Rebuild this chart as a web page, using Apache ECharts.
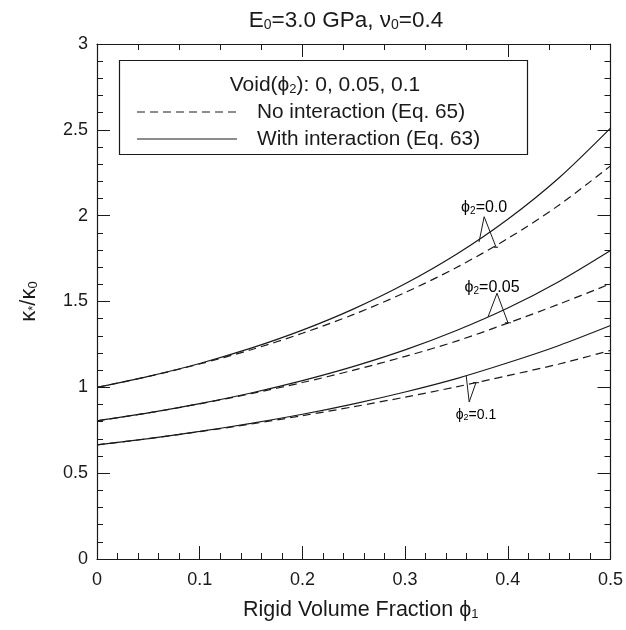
<!DOCTYPE html>
<html>
<head>
<meta charset="utf-8">
<script src="https://cdn.jsdelivr.net/npm/echarts@6/dist/echarts.min.js"></script>
<style>html,body{margin:0;padding:0;background:#fff;}#c{width:626px;height:630px;}</style>
</head>
<body>
<div id="c"></div>
<script>
// ---- data ----
const phi1 = [0, 0.05, 0.1, 0.15, 0.2, 0.25, 0.3, 0.35, 0.4, 0.45, 0.5];
const void0With   = [1.000, 1.064, 1.139, 1.228, 1.333, 1.457, 1.603, 1.775, 1.979, 2.221, 2.510];
const void0No     = [1.000, 1.063, 1.136, 1.219, 1.315, 1.425, 1.552, 1.698, 1.867, 2.062, 2.290];
const void005With = [0.805, 0.851, 0.905, 0.967, 1.039, 1.122, 1.218, 1.331, 1.462, 1.617, 1.797];
const void005No   = [0.805, 0.851, 0.904, 0.963, 1.028, 1.100, 1.180, 1.269, 1.374, 1.485, 1.603];
const void01With  = [0.665, 0.701, 0.743, 0.790, 0.843, 0.904, 0.973, 1.051, 1.143, 1.244, 1.360];
const void01No    = [0.665, 0.701, 0.742, 0.786, 0.835, 0.887, 0.943, 1.003, 1.068, 1.136, 1.215];
const xTickLabels = ['0', '0.1', '0.2', '0.3', '0.4', '0.5'];
const yTickLabels = ['0', '0.5', '1', '1.5', '2', '2.5', '3'];
// annotation leaders (data coords): solid end, apex, dashed end
const leader0   = [[0.372, 1.846], [0.377, 1.994], [0.3886, 1.816]];
const leader005 = [[0.3808, 1.411], [0.3895, 1.548], [0.4002, 1.376]];
const leader01  = [[0.3595, 1.067], [0.3624, 0.915], [0.369, 1.027]];
const annoText  = ['{p|ϕ}{s|2}{p|=0.0}', '{p|ϕ}{s|2}{p|=0.05}', '{q|ϕ}{t|2}{q|=0.1}'];
const annoPos   = [[0.377, 2.045], [0.3847, 1.579], [0.369, 0.839]];

const FONT = '"Liberation Sans", Arial, Helvetica, sans-serif';
const INK = '#1a1a1a';
const pair = (ys) => phi1.map((x, i) => [x, ys[i]]);
const tickSeg = (p, w) => [[p[0] - w, p[1]], [p[0] + w, p[1]]];

const chart = echarts.init(document.getElementById('c'), null, {renderer: 'canvas'});

const curve = (data, dashed) => ({
  type: 'line', data: pair(data), showSymbol: false, symbol: 'none', smooth: 0.3,
  lineStyle: {color: INK, width: 1.2, type: dashed ? [8, 5] : 'solid'}, silent: true, z: 3
});
const seg = (data) => ({
  type: 'line', data: data, showSymbol: false, symbol: 'none',
  lineStyle: {color: INK, width: 1}, silent: true, z: 4
});

const axisLine = {show: true, onZero: false, lineStyle: {color: INK, width: 1.2}};
const tok = (size, sub) => Object.assign({fontSize: size, fontFamily: FONT, fill: '#000'},
  sub ? {verticalAlign: 'bottom', lineHeight: 6} : {});
const annoRich = {p: tok(16), s: tok(10, true), q: tok(14), t: tok(9, true)};

const baseGraphic = [
  {type: 'text', x: 346, y: 21, z: 10, style: {
    text: '{m|E}{s|0}{m|=3.0 GPa, ν}{s|0}{m|=0.4}', align: 'center', verticalAlign: 'middle',
    rich: {
      m: {fontSize: 22.5, fontFamily: FONT, fill: INK},
      s: {fontSize: 14, fontFamily: FONT, fill: INK, verticalAlign: 'bottom', lineHeight: 8}
    }}},
  {type: 'rect', z: 10, shape: {x: 119.5, y: 60.5, width: 408, height: 94},
    style: {fill: '#fff', stroke: INK, lineWidth: 1.2}},
  {type: 'text', x: 325, y: 85, z: 11, style: {
    text: '{m|Void(ϕ}{s|2}{m|): 0, 0.05, 0.1}', align: 'center', verticalAlign: 'middle',
    rich: {
      m: {fontSize: 21, fontFamily: FONT, fill: INK},
      s: {fontSize: 13, fontFamily: FONT, fill: INK, verticalAlign: 'bottom', lineHeight: 8}
    }}},
  {type: 'line', z: 11, shape: {x1: 137, y1: 112, x2: 237, y2: 112},
    style: {stroke: INK, lineWidth: 1.2, lineDash: [8, 5]}},
  {type: 'text', x: 257, y: 112, z: 11, style: {
    text: 'No interaction (Eq. 65)', font: '20.8px ' + FONT, fill: INK, align: 'left', verticalAlign: 'middle'}},
  {type: 'line', z: 11, shape: {x1: 137, y1: 139, x2: 237, y2: 139},
    style: {stroke: INK, lineWidth: 1.2}},
  {type: 'text', x: 257, y: 139, z: 11, style: {
    text: 'With interaction (Eq. 63)', font: '20.8px ' + FONT, fill: INK, align: 'left', verticalAlign: 'middle'}}
];

const option = {
  animation: false,
  backgroundColor: '#fff',
  grid: {left: 97, right: 13, top: 44, bottom: 71, containLabel: false},
  xAxis: [
    {
      type: 'value', position: 'bottom', min: 0, max: 0.5, interval: 0.1,
      axisLine: axisLine,
      axisTick: {show: true, inside: true, length: 13, lineStyle: {color: INK, width: 1}},
      minorTick: {show: true, splitNumber: 5, length: 6, lineStyle: {color: INK, width: 1}},
      splitLine: {show: false}, minorSplitLine: {show: false},
      axisLabel: {fontSize: 18, fontFamily: FONT, color: INK, margin: 12,
        formatter: (v) => xTickLabels[Math.round(v * 10)]},
      name: '{a|Rigid Volume Fraction ϕ}{b|1}', nameLocation: 'middle', nameGap: 40,
      nameTextStyle: {padding: [0, 0, 0, 14], rich: {
        a: {fontSize: 21.5, fontFamily: FONT, color: INK},
        b: {fontSize: 13, fontFamily: FONT, color: INK, verticalAlign: 'bottom', lineHeight: 8}
      }}
    },
    {
      type: 'value', position: 'top', min: 0, max: 0.5, interval: 0.04,
      axisLine: axisLine,
      axisTick: {show: true, inside: true, length: 6, lineStyle: {color: INK, width: 1}},
      axisLabel: {show: false}, splitLine: {show: false}
    },
    {
      type: 'value', position: 'top', min: 0, max: 0.5, interval: 0.2,
      axisLine: {show: false, onZero: false},
      axisTick: {show: true, inside: true, length: 13, lineStyle: {color: INK, width: 1}},
      axisLabel: {show: false}, splitLine: {show: false}
    }
  ],
  yAxis: [
    {
      type: 'value', position: 'left', min: 0, max: 3, interval: 0.5,
      axisLine: axisLine,
      axisTick: {show: true, inside: true, length: 13, lineStyle: {color: INK, width: 1}},
      minorTick: {show: true, splitNumber: 5, length: 6, lineStyle: {color: INK, width: 1}},
      splitLine: {show: false}, minorSplitLine: {show: false},
      axisLabel: {fontSize: 18, fontFamily: FONT, color: INK, margin: 9,
        formatter: (v) => yTickLabels[Math.round(v * 2)]},
      name: '{k|κ}{s|*}{k|/κ}{s|0}', nameLocation: 'middle', nameGap: 57, nameRotate: 90,
      nameTextStyle: {rich: {
        k: {fontSize: 22, fontFamily: FONT, color: INK},
        s: {fontSize: 13, fontFamily: FONT, color: INK, verticalAlign: 'bottom', lineHeight: 8}
      }}
    },
    {
      type: 'value', position: 'right', min: 0, max: 3, interval: 0.5,
      axisLine: axisLine,
      axisTick: {show: true, inside: true, length: 13, lineStyle: {color: INK, width: 1}},
      minorTick: {show: true, splitNumber: 5, length: 6, lineStyle: {color: INK, width: 1}},
      axisLabel: {show: false}, splitLine: {show: false}
    }
  ],
  series: [
    curve(void0With, false), curve(void0No, true),
    curve(void005With, false), curve(void005No, true),
    curve(void01With, false), curve(void01No, true),
    seg(leader0), seg(tickSeg(leader0[2], 0.002)),
    seg(leader005), seg(tickSeg(leader005[2], 0.003)),
    seg(leader01), seg(tickSeg(leader01[2], 0.003))
  ],
  graphic: baseGraphic
};
chart.setOption(option);

// annotation labels placed through the chart's own coordinate conversion
const annoGraphic = annoPos.map((p, i) => {
  const px = chart.convertToPixel({xAxisIndex: 0, yAxisIndex: 0}, p);
  return {type: 'text', x: px[0], y: px[1], z: 12, style: {
    text: annoText[i], align: 'center', verticalAlign: 'middle', rich: annoRich}};
});
chart.setOption({graphic: baseGraphic.concat(annoGraphic)});
</script>
</body>
</html>
